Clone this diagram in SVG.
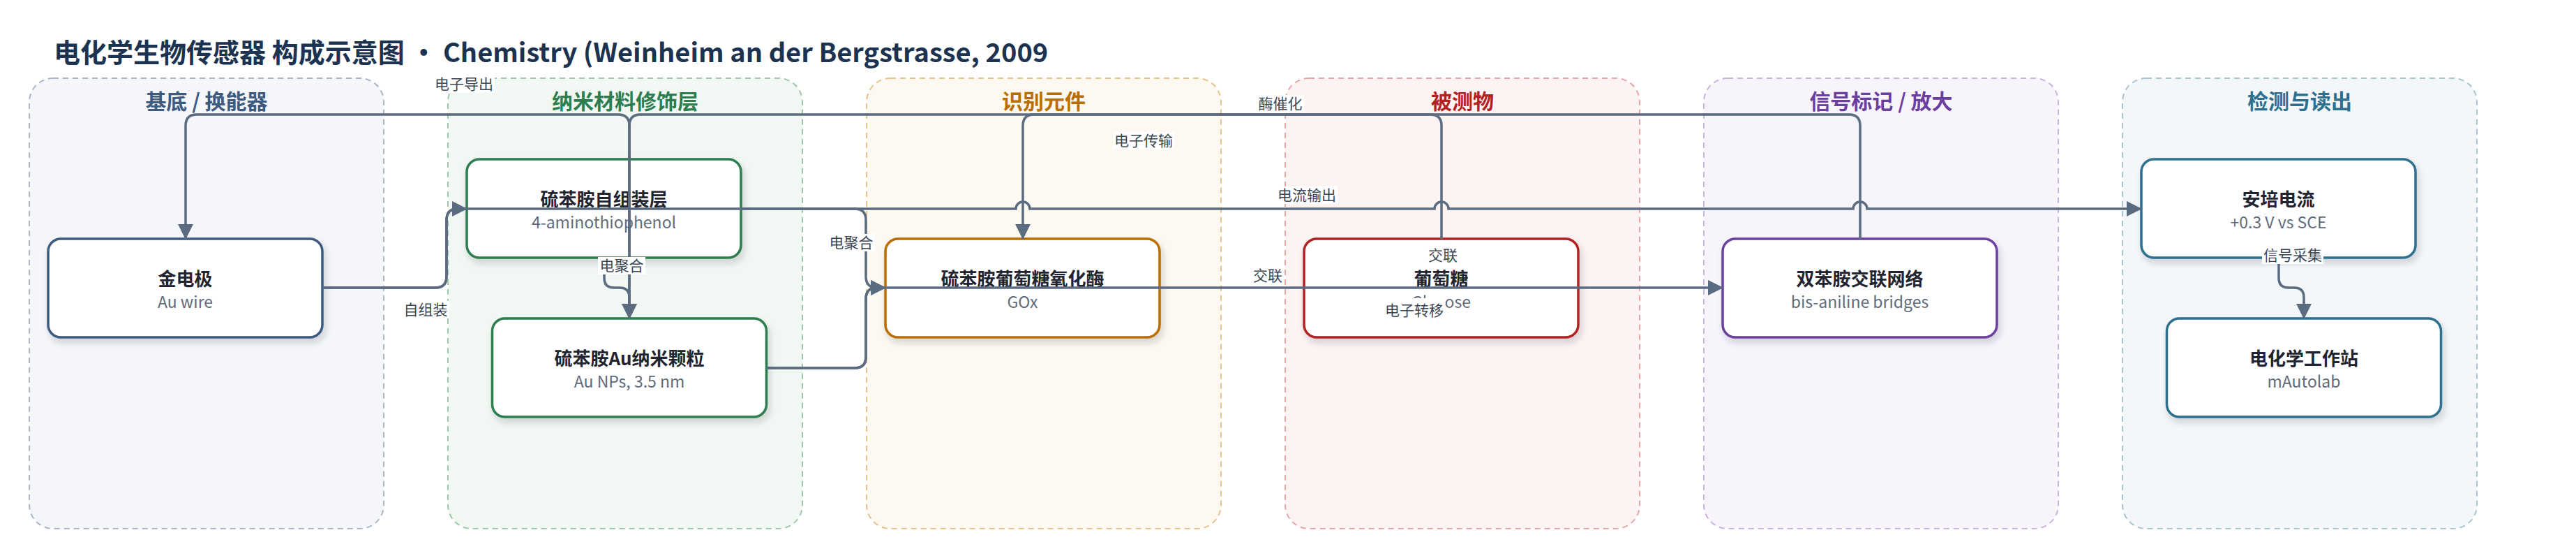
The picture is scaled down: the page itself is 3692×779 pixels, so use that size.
<svg xmlns="http://www.w3.org/2000/svg" width="3692" height="779" viewBox="0 0 3692 779">
<style>
text{font-family:"Noto Sans CJK SC","Noto Sans",sans-serif}
.title{font-size:38px;font-weight:700;fill:#1b3350}
.lane{stroke-width:2;stroke-dasharray:8 6}
.lt{font-size:30px;font-weight:700;text-anchor:middle}
.node rect{fill:#fff;stroke-width:3.5;filter:url(#sh)}
.nt{font-size:26px;font-weight:700;fill:#1f2430;text-anchor:middle}
.ns{font-size:23px;fill:#5f6b7a;text-anchor:middle}
.edge{fill:none;stroke:#5b6b80;stroke-width:3.5}
.arr{marker-end:url(#ah)}
.lb{font-size:21px;fill:#3b4654;text-anchor:middle}
.lbg{fill:#fff}
</style>
<defs>
<filter id="sh" x="-10%" y="-20%" width="120%" height="150%">
<feDropShadow dx="3" dy="6" stdDeviation="5" flood-color="#1f2a3a" flood-opacity="0.18"/>
</filter>
<marker id="ah" markerWidth="22" markerHeight="24" refX="21" refY="12" orient="auto" markerUnits="userSpaceOnUse">
<path d="M0,1 L22,12 L0,23 Z" fill="#5b6b80"/>
</marker>
</defs>
<rect width="3692" height="779" fill="#fff"/>
<text class="title" x="77" y="89">电化学生物传感器 构成示意图 · Chemistry (Weinheim an der Bergstrasse, 2009</text>

<g id="lanes">
<rect class="lane" x="42" y="112" width="508" height="645" rx="34" fill="#f4f6fa" stroke="#a9b6c8"/>
<rect class="lane" x="642" y="112" width="508" height="645" rx="34" fill="#f1f8f3" stroke="#9ec8aa"/>
<rect class="lane" x="1242" y="112" width="508" height="645" rx="34" fill="#fdf8f0" stroke="#e5c28e"/>
<rect class="lane" x="1842" y="112" width="508" height="645" rx="34" fill="#fdf3f3" stroke="#e6a6a6"/>
<rect class="lane" x="2442" y="112" width="508" height="645" rx="34" fill="#f7f4fb" stroke="#c9b3e0"/>
<rect class="lane" x="3042" y="112" width="508" height="645" rx="34" fill="#f3f7f9" stroke="#a9c5d1"/>
<text class="lt" x="296" y="156" fill="#3d5a80">基底 / 换能器</text>
<text class="lt" x="896" y="156" fill="#2e7d4f">纳米材料修饰层</text>
<text class="lt" x="1496" y="156" fill="#b86e00">识别元件</text>
<text class="lt" x="2096" y="156" fill="#b22222">被测物</text>
<text class="lt" x="2696" y="156" fill="#6a3fa0">信号标记 / 放大</text>
<text class="lt" x="3296" y="156" fill="#2e6f8e">检测与读出</text>
</g>

<g id="n1" class="node"><rect x="69" y="342" width="393" height="141" rx="18" stroke="#3d5a80"/><text class="nt" x="265.5" y="409">金电极</text><text class="ns" x="265.5" y="441">Au wire</text></g>
<g id="n2" class="node"><rect x="669" y="228" width="393" height="141" rx="18" stroke="#2e7d4f"/><text class="nt" x="865.5" y="295">硫苯胺自组装层</text><text class="ns" x="865.5" y="327">4-aminothiophenol</text></g>
<g id="n3" class="node"><rect x="705.5" y="456" width="393" height="141" rx="18" stroke="#2e7d4f"/><text class="nt" x="902" y="523">硫苯胺Au纳米颗粒</text><text class="ns" x="902" y="555">Au NPs, 3.5 nm</text></g>
<g id="n4" class="node"><rect x="1269" y="342" width="393" height="141" rx="18" stroke="#b86e00"/><text class="nt" x="1465.5" y="409">硫苯胺葡萄糖氧化酶</text><text class="ns" x="1465.5" y="441">GOx</text></g>
<g id="n5" class="node"><rect x="1869" y="342" width="393" height="141" rx="18" stroke="#b22222"/><text class="nt" x="2065.5" y="409">葡萄糖</text><text class="ns" x="2065.5" y="441">Glucose</text></g>
<g id="n6" class="node"><rect x="2469" y="342" width="393" height="141" rx="18" stroke="#6a3fa0"/><text class="nt" x="2665.5" y="409">双苯胺交联网络</text><text class="ns" x="2665.5" y="441">bis-aniline bridges</text></g>
<g id="n7" class="node"><rect x="3069" y="228" width="393" height="141" rx="18" stroke="#2e6f8e"/><text class="nt" x="3265.5" y="295">安培电流</text><text class="ns" x="3265.5" y="327">+0.3 V vs SCE</text></g>
<g id="n8" class="node"><rect x="3105.5" y="456" width="393" height="141" rx="18" stroke="#2e6f8e"/><text class="nt" x="3302" y="523">电化学工作站</text><text class="ns" x="3302" y="555">mAutolab</text></g>

<g id="connectors">
<path class="edge arr" d="M462,412 H624 Q640,412 640,396 V315 Q640,299 656,299 H669"/>
<path class="edge arr" d="M462,412 H624 Q640,412 640,396 V315 Q640,299 656,299 H1456 A10,10 0 0 1 1476,299 H2056 A10,10 0 0 1 2076,299 H2656 A10,10 0 0 1 2676,299 H3069"/>
<path class="edge arr" d="M866,369 V398 Q866,412 880,412 H888 Q902,412 902,426 V456"/>
<path class="edge arr" d="M902,456 V180 Q902,164 886,164 H282 Q266,164 266,180 V342"/>
<path class="edge arr" d="M2666,342 V180 Q2666,164 2650,164 H918 Q902,164 902,180 V456"/>
<path class="edge arr" d="M2066,342 V180 Q2066,164 2050,164 H1482 Q1466,164 1466,180 V342"/>
<path class="edge arr" d="M1062,299 H1225 Q1241,299 1241,315 V396 Q1241,412 1257,412 H1269"/>
<path class="edge arr" d="M1099,527 H1225 Q1241,527 1241,511 V428 Q1241,412 1257,412 H1269"/>
<path class="edge arr" d="M1099,527 H1225 Q1241,527 1241,511 V428 Q1241,412 1257,412 H2469"/>
<path class="edge arr" d="M3266,369 V398 Q3266,412 3280,412 H3288 Q3302,412 3302,426 V456"/>
</g>

<g id="labels">
<rect class="lbg" x="621" y="108" width="88" height="25"/><text class="lb" x="665" y="128">电子导出</text>
<rect class="lbg" x="577" y="431" width="67" height="25"/><text class="lb" x="610" y="451">自组装</text>
<rect class="lbg" x="857" y="368" width="68" height="25"/><text class="lb" x="891" y="388">电聚合</text>
<rect class="lbg" x="1186" y="335" width="68" height="25"/><text class="lb" x="1220" y="355">电聚合</text>
<rect class="lbg" x="1595" y="189" width="88" height="25"/><text class="lb" x="1639" y="209">电子传输</text>
<rect class="lbg" x="1801" y="136" width="68" height="25"/><text class="lb" x="1835" y="156">酶催化</text>
<rect class="lbg" x="1829" y="267" width="88" height="25"/><text class="lb" x="1873" y="287">电流输出</text>
<rect class="lbg" x="1794" y="382" width="46" height="25"/><text class="lb" x="1817" y="402">交联</text>
<rect class="lbg" x="2045" y="353" width="46" height="25"/><text class="lb" x="2068" y="373">交联</text>
<rect class="lbg" x="1983" y="427" width="88" height="31"/><text class="lb" x="2027" y="452">电子转移</text>
<rect class="lbg" x="3242" y="353" width="88" height="25"/><text class="lb" x="3286" y="373">信号采集</text>
</g>
</svg>
